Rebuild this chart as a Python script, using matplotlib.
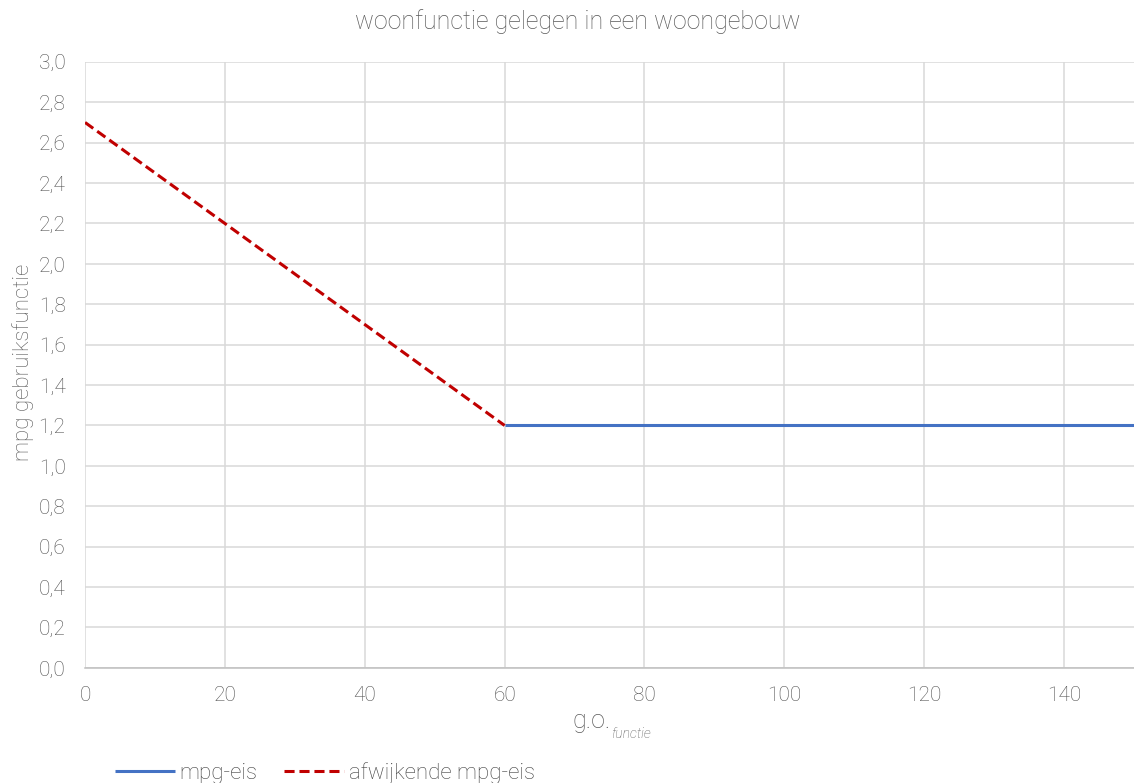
import matplotlib
matplotlib.use("Agg")
import matplotlib.pyplot as plt
from matplotlib.ticker import FuncFormatter, MultipleLocator

# mpg requirement as a function of gross floor area (g.o.)
eis_x = [60, 150]
eis_y = [1.2, 1.2]
afwijkend_x = [0, 60]
afwijkend_y = [2.7, 1.2]

title = "woonfunctie gelegen in een woongebouw"
y_label = "mpg gebruiksfunctie"

plt.rcParams["font.family"] = ["Roboto", "DejaVu Sans"]
plt.rcParams["font.weight"] = "light"
text_color = "#595959"

fig = plt.figure(figsize=(11.34, 7.83), dpi=100)
ax = fig.add_axes([0.075, 0.147, 0.925, 0.774])

ax.plot(eis_x, eis_y, color="#4472C4", linewidth=2.2, label="mpg-eis", solid_capstyle="butt", zorder=3)
ax.plot(afwijkend_x, afwijkend_y, color="#C00000", linewidth=2.2, linestyle=(0, (3.3, 1.6)),
        label="afwijkende mpg-eis", zorder=3)

ax.set_xlim(0, 150)
ax.set_ylim(0, 3.0)
ax.xaxis.set_major_locator(MultipleLocator(20))
ax.yaxis.set_major_locator(MultipleLocator(0.2))
ax.yaxis.set_major_formatter(FuncFormatter(lambda v, _: f"{v:.1f}".replace(".", ",")))

ax.grid(True, color="#D9D9D9", linewidth=1.1)
ax.set_axisbelow(True)
for side in ("top", "right", "left"):
    ax.spines[side].set_visible(False)
ax.spines["bottom"].set_color("#BFBFBF")
ax.spines["bottom"].set_linewidth(1.1)
ax.tick_params(length=0, labelsize=15, labelcolor="#505050")
ax.tick_params(axis="y", pad=14)
ax.tick_params(axis="x", pad=13)

fig.text(0.5095, 0.972, title, ha="center", va="center", fontsize=18, color=text_color)
fig.text(0.020, 0.537, y_label, rotation=90, ha="center", va="center", fontsize=16, color=text_color)

# x label: "g.o." with a small italic subscript
go = fig.text(0.5045, 0.0702, "g.o.", ha="left", va="baseline", fontsize=18, color=text_color)
ax.annotate("functie", xy=(1, 0), xycoords=go, xytext=(0.5, -3.5), textcoords="offset points",
            ha="left", va="baseline", fontsize=10, style="italic", color=text_color)

fig.legend(loc="center left", bbox_to_anchor=(0.101, 0.0128), ncol=2, frameon=False, fontsize=16,
           handlelength=2.7, handletextpad=0.22, columnspacing=1.2, labelcolor="#404040",
           borderpad=0, borderaxespad=0)

fig.savefig("out.png", dpi=100)
